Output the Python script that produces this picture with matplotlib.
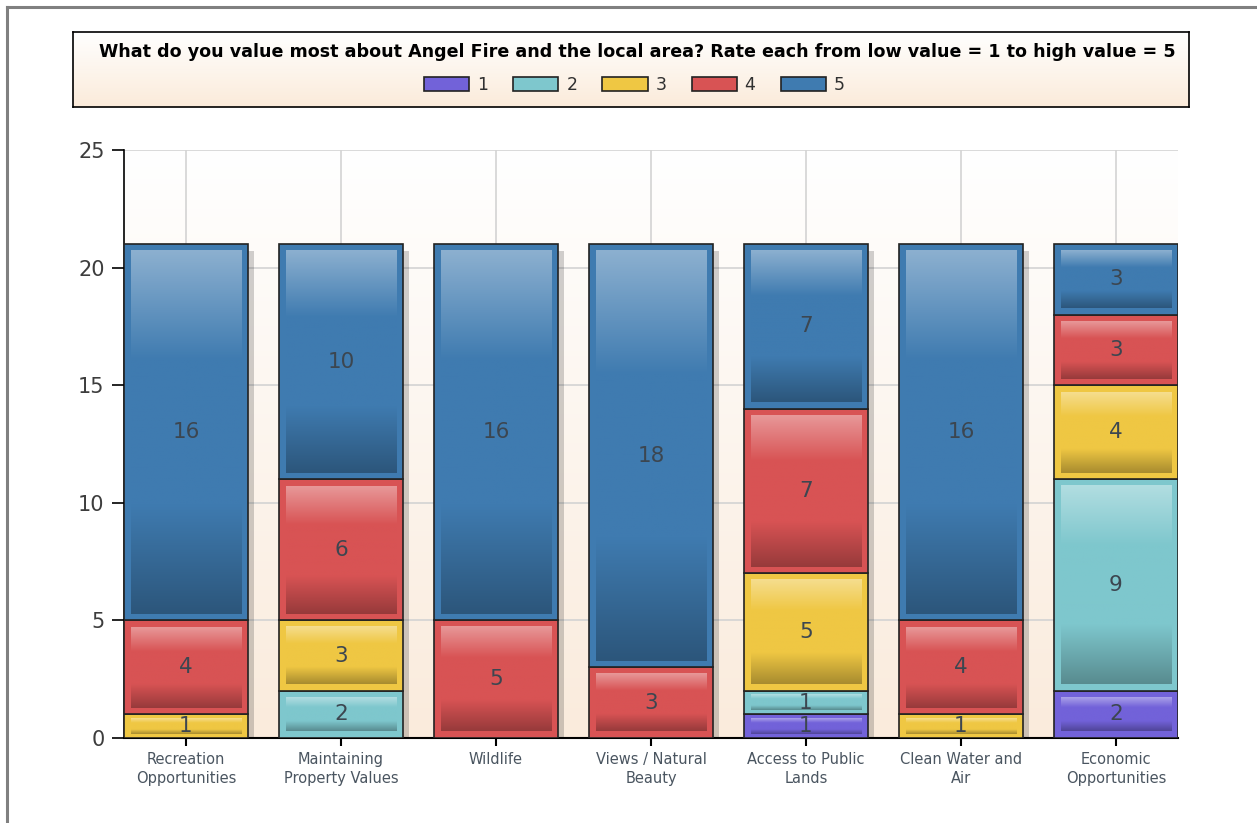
import numpy as np
import matplotlib
matplotlib.use('Agg')
import matplotlib.pyplot as plt
from matplotlib.colors import to_rgb
from matplotlib.lines import Line2D

# data
categories = ['Recreation\nOpportunities', 'Maintaining\nProperty Values', 'Wildlife',
              'Views / Natural\nBeauty', 'Access to Public\nLands', 'Clean Water and\nAir',
              'Economic\nOpportunities']
ratings = ['1', '2', '3', '4', '5']
rate1 = [0, 0, 0, 0, 1, 0, 2]
rate2 = [0, 2, 0, 0, 1, 0, 9]
rate3 = [1, 3, 0, 0, 5, 1, 4]
rate4 = [4, 6, 5, 3, 7, 4, 3]
rate5 = [16, 10, 16, 18, 7, 16, 3]
series = [rate1, rate2, rate3, rate4, rate5]
colors = ['#7262D9', '#7EC7CD', '#EFC743', '#D85354', '#3F7BB0']

title = 'What do you value most about Angel Fire and the local area? Rate each from low value = 1 to high value = 5'


def mix(c, other, t):
    c = np.array(to_rgb(c))
    return c + (np.array(other) - c) * t


def gradient(c, n=200):
    top = mix(c, (1, 1, 1), 0.4)
    base = np.array(to_rgb(c))
    bot = mix(c, (0, 0, 0), 0.3)
    s = np.linspace(0, 1, n)
    out = np.zeros((n, 1, 3))
    for i, v in enumerate(s):
        if v < 0.3:
            out[i, 0] = top + (base - top) * (v / 0.3)
        elif v < 0.7:
            out[i, 0] = base
        else:
            out[i, 0] = base + (bot - base) * ((v - 0.7) / 0.3)
    return out


fig = plt.figure(figsize=(12.57, 8.23), dpi=100)
W, H = 1257, 823

# main axes
ax = fig.add_axes([124 / W, 1 - 738 / H, (1178 - 124) / W, (738 - 150) / H])
x = np.arange(len(categories))
totals = np.sum(series, axis=0)

bg = np.ones((256, 1, 3)) + np.linspace(0, 1, 256)[:, None, None] * (np.array(to_rgb('#FAEBDC')) - 1)
ax.imshow(bg, extent=[0, 1, 0, 1], transform=ax.transAxes, aspect='auto', zorder=0)

# drop shadow
ax.bar(x + 0.04, totals - 0.3, width=0.8, color='black', alpha=0.18, zorder=2, linewidth=0)

bottom = np.zeros(len(categories))
containers = []
for vals, c in zip(series, colors):
    vals = np.array(vals)
    bars = ax.bar(x, vals, bottom=bottom, width=0.8, color=c, edgecolor='#222222',
                  linewidth=1.2, zorder=3)
    containers.append(bars)
    g = gradient(c)
    for p in bars.patches:
        h = p.get_height()
        if h <= 0:
            continue
        dx = 0.045
        dy = min(0.28, 0.18 * h)
        ax.imshow(g, extent=[p.get_x() + dx, p.get_x() + p.get_width() - dx,
                             p.get_y() + dy, p.get_y() + h - dy],
                  aspect='auto', zorder=4, origin='upper')
    ax.bar_label(bars, labels=[str(v) if v else '' for v in vals], label_type='center',
                 fontsize=15.5, color='#3C4650', zorder=6)
    bottom = bottom + vals

ax.set_xlim(-0.4, 6.4)
ax.set_ylim(0, 25)
ax.set_yticks([0, 5, 10, 15, 20, 25])
ax.set_xticks(x)
ax.set_xticklabels(categories, fontsize=10.5, color='#4A5560', linespacing=1.35)
ax.tick_params(axis='y', labelsize=15, labelcolor='#3D3D3D', length=9, width=1.2, pad=5)
ax.tick_params(axis='x', length=6, width=1.5, pad=4)
ax.grid(True, color='#D3D3D3', linewidth=1.2, zorder=1)
ax.set_axisbelow(True)
for s in ['top', 'right']:
    ax.spines[s].set_visible(False)
ax.spines['left'].set_linewidth(1.2)
ax.spines['bottom'].set_linewidth(1.5)

# title box with legend
axt = fig.add_axes([73 / W, 1 - 107 / H, (1189 - 73) / W, 75 / H])
tb = np.ones((100, 1, 3)) + np.linspace(0, 1, 100)[:, None, None] * (np.array(to_rgb('#FBEBDA')) - 1)
axt.imshow(tb, extent=[0, 1, 0, 1], aspect='auto')
axt.set_xlim(0, 1)
axt.set_ylim(0, 1)
axt.set_xticks([])
axt.set_yticks([])
for s in axt.spines.values():
    s.set_linewidth(1.2)
    s.set_color('black')
axt.text(0.506, 0.73, title, ha='center', va='center', fontsize=12.6, fontweight='bold',
         color='black')
axt.legend(containers, ratings, loc='center', bbox_to_anchor=(0.503, 0.29), ncol=5,
           frameon=False, fontsize=12.5, handlelength=2.6, handleheight=0.9,
           handletextpad=0.45, columnspacing=1.45, labelcolor='#303030')

# window frame
fig.add_artist(Line2D([7 / W, 1], [1 - 7 / H, 1 - 7 / H], color='#808080', lw=2.2))
fig.add_artist(Line2D([7 / W, 7 / W], [0, 1 - 7 / H], color='#808080', lw=2.2))

fig.savefig('out.png', dpi=100)
